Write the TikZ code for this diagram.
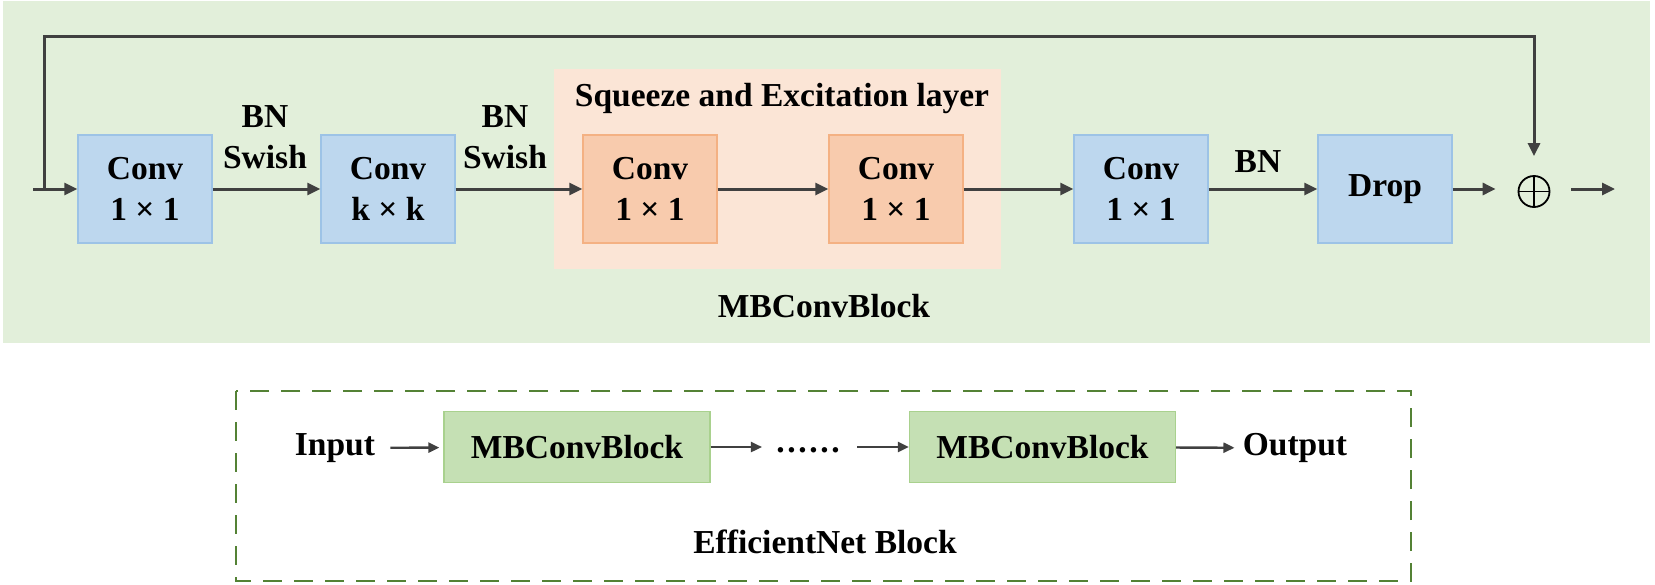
\documentclass[tikz,border=0pt]{standalone}
\usepackage{fontspec}
\setmainfont{Liberation Serif}
\usetikzlibrary{arrows.meta}
\definecolor{bggreen}{HTML}{E2EFDA}
\definecolor{bgorange}{HTML}{FBE5D6}
\definecolor{boxblue}{HTML}{BDD7EE}
\definecolor{boxblueedge}{HTML}{9DC3E6}
\definecolor{boxorange}{HTML}{F8CBAD}
\definecolor{boxorangeedge}{HTML}{F4B183}
\definecolor{boxgreen}{HTML}{C5E0B4}
\definecolor{boxgreenedge}{HTML}{A9D18E}
\definecolor{dashgreen}{HTML}{548235}
\definecolor{linegray}{HTML}{404040}
\begin{document}
\begin{tikzpicture}[x=0.5pt,y=-0.5pt,
  txt/.style={font=\fontsize{16.75pt}{20.5pt}\selectfont\bfseries, inner sep=0pt, align=center, text=black},
  bluebox/.style={txt, draw=boxblueedge, fill=boxblue, line width=0.7pt, minimum width=67pt, minimum height=54pt},
  orangebox/.style={txt, draw=boxorangeedge, fill=boxorange, line width=0.7pt, minimum width=67pt, minimum height=54pt},
  greenbox/.style={txt, draw=boxgreenedge, fill=boxgreen, line width=0.7pt, minimum width=133pt, minimum height=35.5pt},
  arr/.style={draw=linegray, line width=1.5pt, -{Triangle[length=6.5pt,width=6pt]}},
  thinarr/.style={draw=linegray, line width=1.2pt, -{Triangle[length=5.5pt,width=5pt]}},
  dashbox/.style={draw=dashgreen, line width=1.4pt, dash pattern=on 9.5pt off 6pt}
]
\useasboundingbox (0,0) rectangle (1655,584);
% backgrounds
\fill[bggreen] (3,1) rectangle (1650,343);
\fill[bgorange] (554,69) rectangle (1001,269);
\draw[dashbox] (236,391) rectangle (1411,581);

% top row
\coordinate (in) at (33,189);
\coordinate (br) at (44.6,189);
\node[bluebox] (c1) at (145,189) {Conv\\1 × 1};
\node[bluebox] (c2) at (388,189) {Conv\\k × k};
\node[orangebox] (se1) at (650,189) {Conv\\1 × 1};
\node[orangebox] (se2) at (896,189) {Conv\\1 × 1};
\node[bluebox] (c3) at (1141,189) {Conv\\1 × 1};
\node[bluebox] (drop) at (1385,189) {Drop};
\node[circle, draw=black, line width=0.9pt, minimum size=15.5pt, inner sep=0pt,
      path picture={\draw[line width=0.9pt] (path picture bounding box.north) -- (path picture bounding box.south)
                    (path picture bounding box.west) -- (path picture bounding box.east);}] (plus) at (1534,191.5) {};
\coordinate (out) at (1615,189);
\coordinate (top) at (44.6,36);

\node[txt] (l1) at (265,137) {BN\\Swish};
\node[txt] (l2) at (505,137) {BN\\Swish};
\node[txt] (l3) at (1258,162) {BN};
\node[txt] (se) at (782,98) {Squeeze and Excitation layer};
\node[txt] (mb) at (824,306) {MBConvBlock};

\draw[arr] (in) -- (c1);
\draw[arr] (c1) -- (c2);
\draw[arr] (c2) -- (se1);
\draw[arr] (se1) -- (se2);
\draw[arr] (se2) -- (c3);
\draw[arr] (c3) -- (drop);
\draw[arr, shorten >=11pt] (drop) -- (drop -| plus.west);
\draw[arr, shorten <=10.5pt] (plus.east |- out) -- (out);
\draw[arr, shorten >=9.5pt] (br) -- (top) -| (plus.north);

% bottom row
\node[txt] (inp) at (335,448) {Input};
\node[greenbox] (b1) at (577,447) {MBConvBlock};
\node[txt, anchor=base] (dots) at (808,452) {.\kern1.3pt.\kern1.3pt.\kern1.3pt.\kern1.3pt.\kern1.3pt.};
\node[greenbox] (b2) at (1042.5,447) {MBConvBlock};
\node[txt] (outp) at (1295,448) {Output};
\node[txt] (eff) at (825,542) {EfficientNet Block};

\draw[thinarr, shorten <=7.5pt, shorten >=2pt] (inp) -- (b1);
\draw[thinarr, shorten >=7pt] (b1.east) -- (b1.east -| dots.west);
\draw[thinarr, shorten <=8.5pt] (dots.east |- b2.west) -- (b2.west);
\draw[thinarr, shorten >=4pt] (b2) -- (outp);
\end{tikzpicture}
\end{document}
